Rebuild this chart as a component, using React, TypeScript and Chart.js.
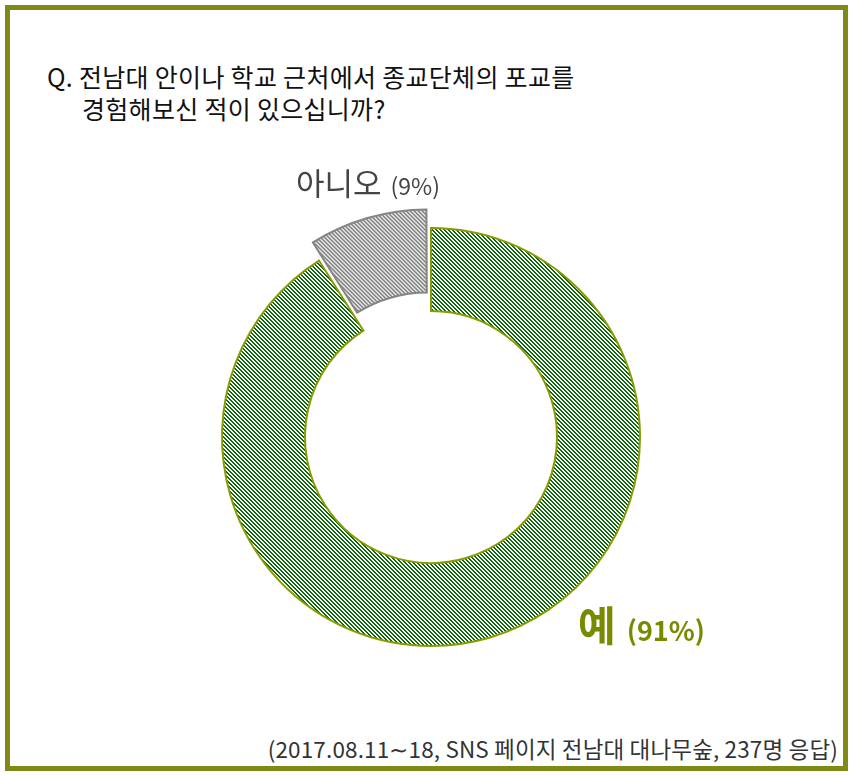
import React, { useEffect, useRef } from "react";
import { Chart, registerables } from "chart.js";

Chart.register(...registerables);

const categories = ["예", "아니오"];
const values = [91, 9];
const percentLabels = ["(91%)", "(9%)"];
const titleLines = ["Q. 전남대 안이나 학교 근처에서 종교단체의 포교를", "경험해보신 적이 있으십니까?"];
const footnote = "(2017.08.11∼18, SNS 페이지 전남대 대나무숲, 237명 응답)";

const FONT = '"Noto Sans CJK KR", "Noto Sans", sans-serif';
const OLIVE = "#7f8a14";

function makeHatch(color: string): CanvasPattern | string {
  const c = document.createElement("canvas");
  c.width = 4;
  c.height = 4;
  const ctx = c.getContext("2d");
  if (!ctx) return color;
  ctx.fillStyle = "#ffffff";
  ctx.fillRect(0, 0, 4, 4);
  ctx.fillStyle = color;
  for (let y = 0; y < 4; y++) {
    for (let x = 0; x < 4; x++) {
      if ((x - y + 8) % 4 < 2) ctx.fillRect(x, y, 1, 1);
    }
  }
  const p = ctx.createPattern(c, "repeat");
  return p || color;
}

function DonutChart() {
  const ref = useRef<HTMLCanvasElement | null>(null);
  useEffect(() => {
    if (!ref.current) return;
    const green = makeHatch("#0e690e");
    const gray = makeHatch("#6a6a6a");
    const chart = new Chart(ref.current, {
      type: "doughnut",
      data: {
        labels: categories,
        datasets: [
          {
            data: values,
            backgroundColor: [green as any, gray as any],
            borderColor: ["#8a9a00", "#858585"],
            borderWidth: 2,
            borderJoinStyle: "miter",
            offset: [0, 52],
          },
        ],
      },
      options: {
        responsive: false,
        animation: false,
        radius: 209,
        cutout: "60.3%",
        layout: { padding: 0 },
        plugins: {
          legend: { display: false },
          tooltip: { enabled: false },
        },
      },
    });
    return () => chart.destroy();
  }, []);
  return (
    <canvas
      ref={ref}
      width={480}
      height={480}
      style={{ position: "absolute", left: 431 - 240, top: 437 - 240, width: 480, height: 480 }}
    />
  );
}

export default function App() {
  return (
    <div
      style={{
        position: "fixed",
        left: 0,
        top: 0,
        width: 855,
        height: 777,
        background: "#ffffff",
        fontFamily: FONT,
        overflow: "hidden",
      }}
    >
      <div
        style={{
          position: "absolute",
          left: 5,
          top: 5,
          width: 843,
          height: 766,
          border: `5px solid ${OLIVE}`,
          boxSizing: "border-box",
        }}
      />
      <div style={{ position: "absolute", left: 47, top: 60, fontSize: 25, lineHeight: "32px", color: "#111", whiteSpace: "nowrap", letterSpacing: "0.3px" }}>
        <div>{titleLines[0]}</div>
        <div style={{ paddingLeft: 35 }}>{titleLines[1]}</div>
      </div>
      <DonutChart />
      <div style={{ position: "absolute", left: 296, top: 166, whiteSpace: "nowrap", color: "#444", lineHeight: 1 }}>
        <span style={{ fontSize: 31 }}>{categories[1]}</span>
        <span style={{ fontSize: 23, marginLeft: 9 }}>{percentLabels[1]}</span>
      </div>
      <div style={{ position: "absolute", left: 578, top: 603, whiteSpace: "nowrap", color: "#7a8a00", fontWeight: 700, lineHeight: 1 }}>
        <span style={{ fontSize: 41 }}>{categories[0]}</span>
        <span style={{ fontSize: 27, marginLeft: 11 }}>{percentLabels[0]}</span>
      </div>
      <div style={{ position: "absolute", right: 855 - 838, top: 737, fontSize: 22.5, color: "#333", whiteSpace: "nowrap", lineHeight: 1, letterSpacing: "0.15px" }}>
        {footnote}
      </div>
    </div>
  );
}
